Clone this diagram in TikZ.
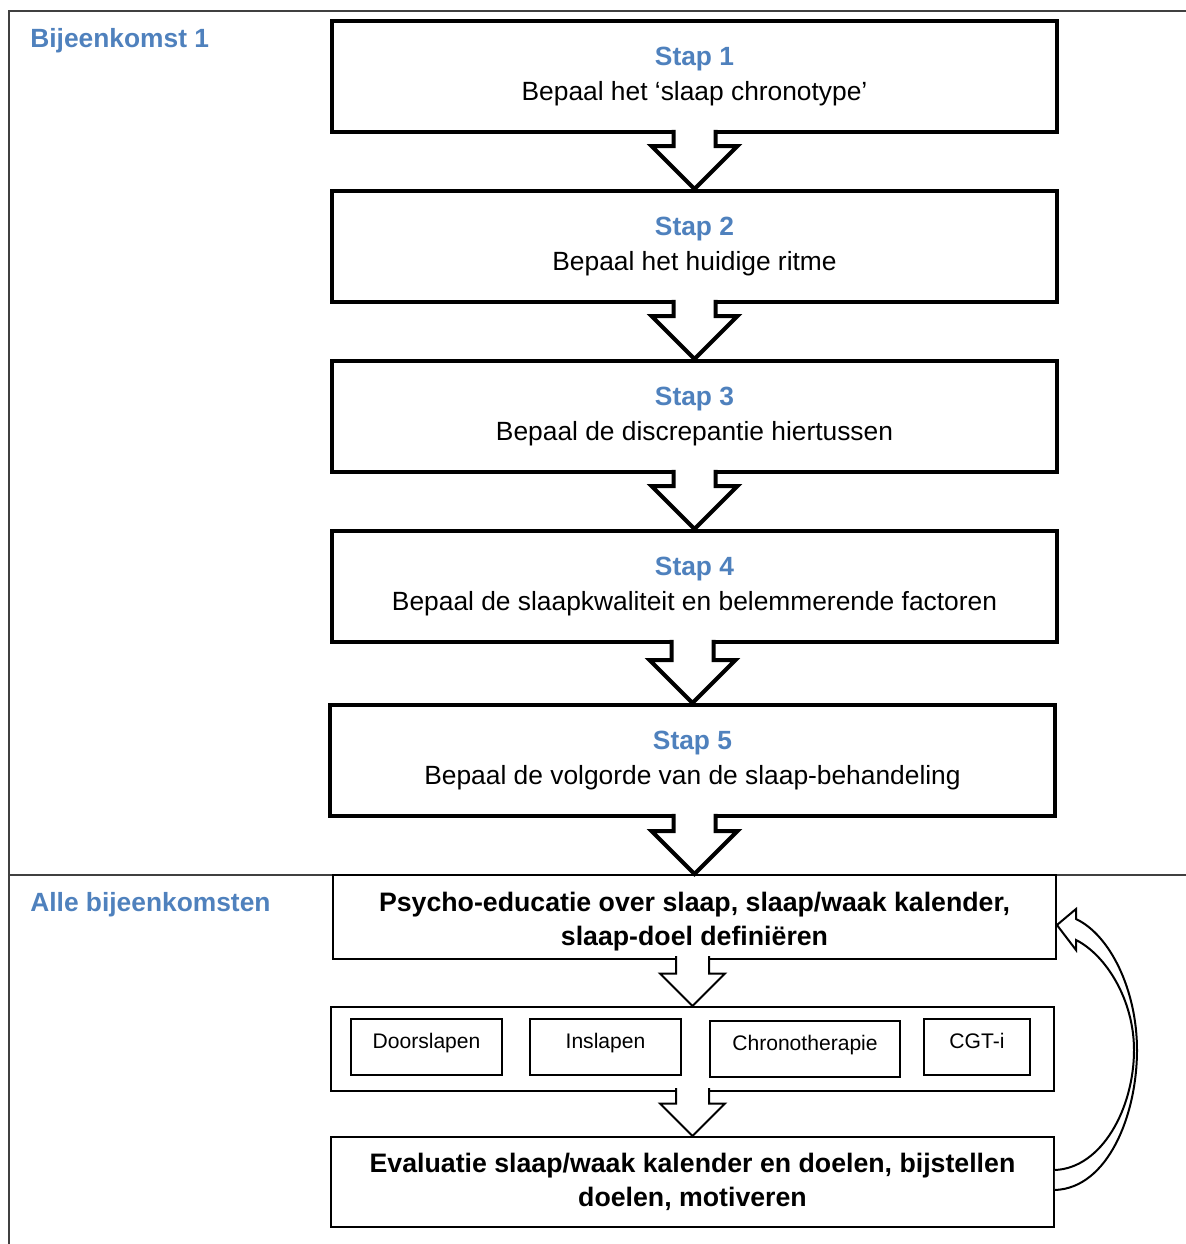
\documentclass[tikz,border=0pt]{standalone}
\usepackage{fontspec}
\setmainfont{Liberation Sans}
\usetikzlibrary{calc}
\definecolor{stapblauw}{RGB}{79,129,189}

\newcommand{\staptitel}[1]{\textcolor{stapblauw}{\bfseries #1}}
% block arrow: from, to, half shaft, half head, style
\newcommand{\blokpijl}[5]{%
  \filldraw[#5] ($(#2.north|-#1.south)+(-#3,-4)$) -- ($(#2.north)+(-#3,-#4)$)
    -- ($(#2.north)+(-#4,-#4)$) -- (#2.north) -- ($(#2.north)+(#4,-#4)$)
    -- ($(#2.north)+(#3,-#4)$) -- ($(#2.north|-#1.south)+(#3,-4)$);}

\begin{document}
\begin{tikzpicture}[x=0.02cm, y=-0.02cm,
    kader/.style={black!75, line width=0.03cm},
    kop/.style={anchor=base west, inner sep=0pt, text=stapblauw, font=\fontsize{15}{18}\selectfont\bfseries},
    stapbox/.style={draw, line width=0.08cm, minimum width=14.5cm, minimum height=2.22cm,
      align=center, font=\fontsize{15}{19.5}\selectfont},
    dunbox/.style={draw, line width=0.04cm, minimum width=14.46cm, minimum height=1.68cm,
      align=center, font=\fontsize{15.2}{19.5}\selectfont\bfseries},
    keuze/.style={draw, line width=0.03cm, minimum height=1.12cm, text height=0.75em, text depth=0.55em,
      font=\fontsize{12}{14}\selectfont},
    dikpijl/.style={draw=black, fill=white, line width=0.08cm},
    dunpijl/.style={draw=black, fill=white, line width=0.04cm},
    terugpijl/.style={draw=black, fill=white, line width=0.04cm}]
    \useasboundingbox (0,0) rectangle (1186,1244);

		% Kader
		\draw[kader] (1186,11) -- (9,11) -- (9,1244);
		\draw[kader] (9,875) -- (1186,875);
		\node[kop] (bijeen) at (30,47) {Bijeenkomst 1};
		\node[kop] (alle) at (30,911) {Alle bijeenkomsten};

		% Stap 1 t/m 5
		\node[stapbox] (s1) at (694.5,76.5) {\staptitel{Stap 1}\\Bepaal het `slaap chronotype'};
		\node[stapbox] (s2) at (694.5,246.5) {\staptitel{Stap 2}\\Bepaal het huidige ritme};
		\node[stapbox] (s3) at (694.5,416.5) {\staptitel{Stap 3}\\Bepaal de discrepantie hiertussen};
		\node[stapbox] (s4) at (694.5,586.5) {\staptitel{Stap 4}\\Bepaal de slaapkwaliteit en belemmerende factoren};
		\node[stapbox] (s5) at (692.5,760.5) {\staptitel{Stap 5}\\Bepaal de volgorde van de slaap-behandeling};

		% Alle bijeenkomsten
		\node[dunbox] (psy) at (694.5,917) {\rule{0pt}{1.05em}Psycho-educatie over slaap, slaap/waak kalender,\\slaap-doel definiëren};
		\node[dunbox, font=\normalfont] (opties) at (692.5,1049) {};
		\node[keuze, minimum width=3.02cm] (door) at (426.5,1047) {Doorslapen};
		\node[keuze, minimum width=3.02cm] (in) at (605.5,1047) {Inslapen};
		\node[keuze, minimum width=3.8cm] (chrono) at (805,1049) {Chronotherapie};
		\node[keuze, minimum width=2.12cm] (cgt) at (977,1047) {CGT-i};
		\node[dunbox, minimum height=1.8cm] (ev) at (692.5,1182) {Evaluatie slaap/waak kalender en doelen, bijstellen\\doelen, motiveren};

		% Pijlen
		\foreach \a/\b in {s1/s2, s2/s3, s3/s4, s4/s5, s5/psy}
			\blokpijl{\a}{\b}{21}{43}{dikpijl};
		\foreach \a/\b in {psy/opties, opties/ev}
			\blokpijl{\a}{\b}{16.5}{32.5}{dunpijl};

		% Terug naar psycho-educatie
		\filldraw[terugpijl] ($(ev.east)+(0,8)$) .. controls (1108,1188) and (1137,1115) .. (1137,1050)
			.. controls (1137,990) and (1110,935) .. (1076,919) -- (1076,909) -- ($(psy.east)+(0,8)$)
			-- (1076,950) -- (1076,940) .. controls (1106,955) and (1134,1000) .. (1134,1050)
			.. controls (1134,1108) and (1102,1168) .. ($(ev.east)+(0,-12)$);
	\end{tikzpicture}
\end{document}
